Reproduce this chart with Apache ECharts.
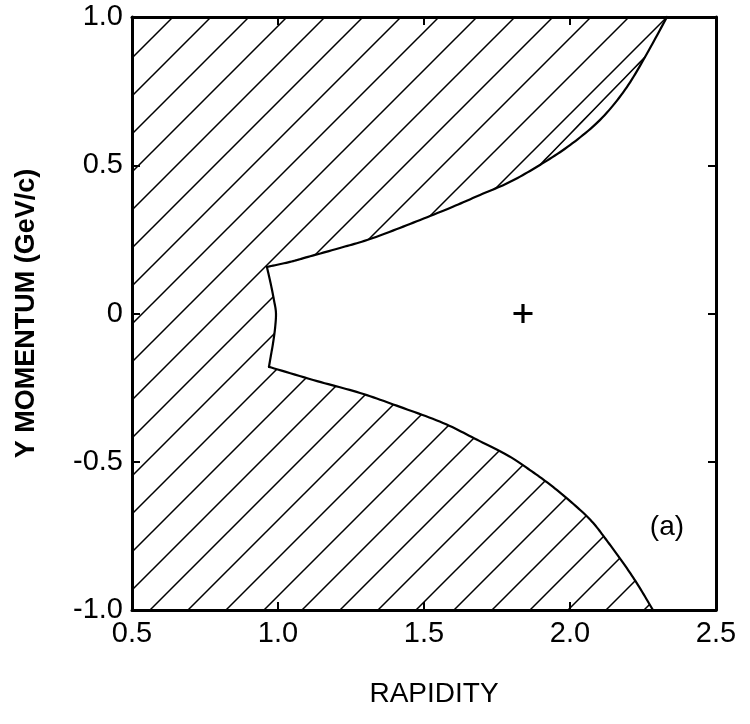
<!DOCTYPE html>
<html>
<head>
<meta charset="utf-8">
<script src="https://cdn.jsdelivr.net/npm/echarts@6/dist/echarts.min.js"></script>
<style>
html,body{margin:0;padding:0;background:#fff;}
#chart{width:750px;height:724px;}
</style>
</head>
<body>
<div id="chart"></div>
<script>
// Boundary of the allowed (unhatched) region
const upperCurve = [[0.962,0.157],[1.041,0.174],[1.103,0.191],[1.212,0.221],[1.315,0.251],[1.452,0.302],[1.589,0.356],[1.692,0.400],[1.795,0.444],[1.897,0.501],[2.000,0.568],[2.103,0.653],[2.188,0.754],[2.257,0.865],[2.332,1.0]];
const leftArc = [[0.962,0.157],[0.976,0.096],[0.986,0.046],[0.993,0.002],[0.990,-0.049],[0.983,-0.100],[0.976,-0.140],[0.969,-0.180]];
const lowerCurve = [[0.969,-0.180],[1.134,-0.228],[1.281,-0.268],[1.418,-0.315],[1.565,-0.369],[1.682,-0.426],[1.784,-0.477],[1.863,-0.528],[1.942,-0.585],[2.024,-0.653],[2.079,-0.706],[2.130,-0.771],[2.182,-0.841],[2.233,-0.916],[2.284,-1.0]];
const lensLine = [[1.897,0.501],[2.257,0.865]];
const centerMark = [[1.839,0.0]];
const panelLabel = [[2.332,-0.72]];
const xRange = [0.5,2.5];
const yRange = [-1.0,1.0];

// Hatched region polygon in data space (built from the arrays above)
const lensStart = upperCurve.findIndex(p=>p[0]===lensLine[0][0]);
const hatchPolygon = [[xRange[0],yRange[1]],[upperCurve[upperCurve.length-1][0],yRange[1]]]
  .concat([lensLine[1]])
  .concat([lensLine[0]])
  .concat(upperCurve.slice(0,lensStart).reverse())
  .concat(leftArc.slice(1))
  .concat(lowerCurve.slice(1))
  .concat([[xRange[0],yRange[0]]]);

function makeHatch(){
  const s = 38;
  const c = document.createElement('canvas');
  c.width = s; c.height = s;
  const g = c.getContext('2d');
  g.strokeStyle = '#000';
  g.lineWidth = 1.5;
  g.beginPath();
  g.moveTo(-s, s); g.lineTo(s, -s);
  g.moveTo(0, s); g.lineTo(s, 0);
  g.moveTo(0, 2*s); g.lineTo(2*s, 0);
  g.stroke();
  return c;
}
const hatchCanvas = makeHatch();

// Catmull-Rom interpolation of already-projected pixel points (visual smoothing only)
function spline(px){
  const out = [];
  const n = px.length;
  for (let i=0;i<n-1;i++){
    const p0 = px[Math.max(i-1,0)], p1 = px[i], p2 = px[i+1], p3 = px[Math.min(i+2,n-1)];
    for (let k=0;k<12;k++){
      const t = k/12, t2=t*t, t3=t2*t;
      out.push([0,1].map(j=>0.5*((2*p1[j]) + (-p0[j]+p2[j])*t + (2*p0[j]-5*p1[j]+4*p2[j]-p3[j])*t2 + (-p0[j]+3*p1[j]-3*p2[j]+p3[j])*t3)));
    }
  }
  out.push(px[n-1]);
  return out;
}

const FONT = 'Liberation Sans';
const chart = echarts.init(document.getElementById('chart'), null, {renderer:'canvas'});
function boundary(data, width){
  return {
    type:'custom', silent:true, z:5, data:[0],
    renderItem:function(params, api){
      const pts = spline(data.map(p=>api.coord(p)));
      return {type:'polyline', shape:{points:pts}, style:{stroke:'#000', lineWidth:width, fill:null, lineJoin:'round', lineCap:'round'}};
    }
  };
}
const frameLine = {show:true, onZero:false, lineStyle:{color:'#000', width:3}};
const frameTick = {show:true, inside:true, length:8, lineStyle:{color:'#000', width:2}};
chart.setOption({
  animation:false,
  backgroundColor:'#fff',
  grid:{left:132, right:34, top:17, bottom:114},
  xAxis:[{
    type:'value', min:xRange[0], max:xRange[1], interval:0.5, position:'bottom',
    name:'RAPIDITY', nameLocation:'middle', nameGap:70,
    nameTextStyle:{fontFamily:FONT, fontSize:28, color:'#000', padding:[0,0,0,20]},
    axisLine:frameLine, axisTick:frameTick,
    axisLabel:{fontFamily:FONT, fontSize:29, color:'#000', margin:9, formatter:v=>v.toFixed(1)},
    splitLine:{show:false}
  },{
    type:'value', min:xRange[0], max:xRange[1], interval:0.5, position:'top',
    axisLine:frameLine, axisTick:frameTick,
    axisLabel:{show:false}, splitLine:{show:false}
  }],
  yAxis:[{
    type:'value', min:yRange[0], max:yRange[1], interval:0.5, position:'left',
    name:'Y MOMENTUM (GeV/c)', nameLocation:'middle', nameGap:92, nameRotate:90,
    nameTextStyle:{fontFamily:FONT, fontSize:27, fontWeight:'bold', color:'#000'},
    axisLine:frameLine, axisTick:frameTick,
    axisLabel:{fontFamily:FONT, fontSize:29, color:'#000', margin:9, formatter:v=>(v===0?'0':v.toFixed(1))},
    splitLine:{show:false}
  },{
    type:'value', min:yRange[0], max:yRange[1], interval:0.5, position:'right',
    axisLine:frameLine, axisTick:frameTick,
    axisLabel:{show:false}, splitLine:{show:false}
  }],
  series:[
    {
      type:'custom', silent:true, z:2, clip:true,
      data:[0],
      renderItem:function(params, api){
        const pts = hatchPolygon.map(p=>api.coord(p));
        return {type:'polygon', shape:{points:pts}, style:{fill:{image:hatchCanvas, repeat:'repeat'}, stroke:null, lineWidth:0}};
      }
    },
    boundary(upperCurve, 2.2),
    boundary(leftArc, 2.2),
    boundary(lowerCurve, 2.2),
    boundary(lensLine, 1.6),
    {
      type:'scatter', data:centerMark, silent:true, z:6,
      symbol:'path://M-1.5,-9 L1.5,-9 L1.5,-1.5 L9,-1.5 L9,1.5 L1.5,1.5 L1.5,9 L-1.5,9 L-1.5,1.5 L-9,1.5 L-9,-1.5 L-1.5,-1.5 Z',
      symbolSize:[19,19], itemStyle:{color:'#000', opacity:1}
    },
    {
      type:'scatter', data:panelLabel, silent:true, z:6, symbolSize:0, itemStyle:{opacity:1},
      label:{show:true, position:'inside', formatter:'(a)', fontFamily:FONT, fontSize:28, color:'#000', opacity:1}
    }
  ]
});
</script>
</body>
</html>
